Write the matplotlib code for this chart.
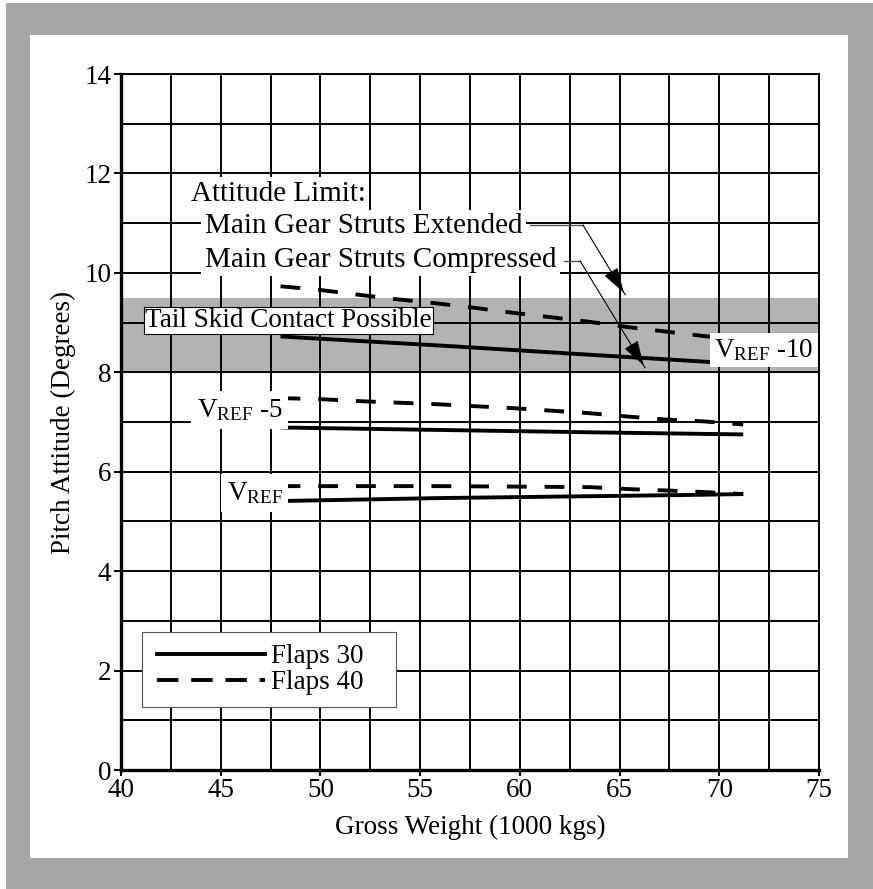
import matplotlib
matplotlib.use("Agg")
import matplotlib.pyplot as plt
from matplotlib.patches import Rectangle
from matplotlib.lines import Line2D

plt.rcParams['font.family'] = ['Liberation Serif', 'DejaVu Serif']
plt.rcParams['mathtext.fontset'] = 'custom'
plt.rcParams['mathtext.rm'] = 'Liberation Serif'
plt.rcParams['mathtext.it'] = 'Liberation Serif:italic'
FS = 19.5
FS_ANN = 21
plt.rcParams['font.size'] = FS

# ---- data ----
f30_ref10_x = [48, 56.35, 62.4, 69.4, 71.2]
f30_ref10_y = [8.72, 8.53, 8.38, 8.21, 8.17]
f40_ref10_x = [48, 49.9, 51.9, 53.8, 55.75, 57.65, 59.6, 61.5, 63.4, 65.4, 67.3, 69.2, 71.2]
f40_ref10_y = [9.73, 9.66, 9.56, 9.47, 9.39, 9.30, 9.20, 9.11, 9.02, 8.91, 8.82, 8.73, 8.65]

f30_ref5_x = [48, 56, 64, 71.2]
f30_ref5_y = [6.89, 6.84, 6.79, 6.75]
f40_ref5_x = [48, 50, 51.9, 53.8, 55.75, 57.65, 59.6, 61.5, 63.4, 65.4, 67.3, 69.3, 71.2]
f40_ref5_y = [7.48, 7.46, 7.42, 7.39, 7.36, 7.32, 7.28, 7.23, 7.18, 7.11, 7.05, 7.01, 6.95]

f30_ref_x = [48, 52, 56, 60, 64, 68, 71.2]
f30_ref_y = [5.41, 5.44, 5.47, 5.49, 5.51, 5.53, 5.55]
f40_ref_x = [48, 52, 56, 60, 63.5, 65.5, 67.5, 69.3, 71.2]
f40_ref_y = [5.71, 5.71, 5.71, 5.70, 5.69, 5.65, 5.62, 5.59, 5.55]

skid_band = (8.0, 9.5)
xticks = [40, 45, 50, 55, 60, 65, 70, 75]
yticks = [0, 2, 4, 6, 8, 10, 12, 14]

W, H, DPI = 873, 889, 100
fig = plt.figure(figsize=(W / DPI, H / DPI), dpi=DPI)
fig.patch.set_facecolor('white')
# gray frame
fig.patches.append(Rectangle((6 / W, 0), (W - 6) / W, 886 / H, transform=fig.transFigure,
                             facecolor='#a6a6a6', edgecolor='none', zorder=-10))
fig.patches.append(Rectangle((30 / W, 31 / H), (848 - 30) / W, (854 - 31) / H,
                             transform=fig.transFigure, facecolor='white',
                             edgecolor='none', zorder=-9))

ax = fig.add_axes([121 / W, 1 - 770 / H, (819 - 121) / W, (770 - 74) / H])
ax.set_facecolor('none')
ax.set_xlim(40, 75)
ax.set_ylim(0, 14)

ax.axhspan(skid_band[0], skid_band[1], facecolor='#b3b3b3', edgecolor='none', zorder=0.1)

# grid
ax.set_axisbelow(True)
ax.set_xticks(xticks)
ax.set_yticks(yticks)
ax.set_xticks([x + 2.5 for x in xticks[:-1]], minor=True)
ax.set_yticks([y + 1 for y in yticks[:-1]], minor=True)
ax.grid(True, which='both', color='black', linewidth=1.4)
ax.tick_params(axis='both', which='minor', length=0)
ax.tick_params(axis='y', which='major', direction='out', length=5, width=1.5, pad=2, labelsize=FS)
ax.tick_params(axis='x', which='major', direction='out', length=4, width=1.5, pad=2, labelsize=FS)
for s in ['left', 'bottom']:
    ax.spines[s].set_linewidth(2.4)
for s in ['top', 'right']:
    ax.spines[s].set_linewidth(1.4)

lw = 2.8
dash = (5.1, 4.6)
ax.plot(f30_ref10_x, f30_ref10_y, color='black', lw=lw, zorder=2, solid_capstyle='butt')
ax.plot(f40_ref10_x, f40_ref10_y, color='black', lw=lw, zorder=2, dashes=dash, dash_capstyle='butt')
ax.plot(f30_ref5_x, f30_ref5_y, color='black', lw=lw, zorder=2, solid_capstyle='butt')
ax.plot(f40_ref5_x, f40_ref5_y, color='black', lw=lw, zorder=2, dashes=dash, dash_capstyle='butt')
ax.plot(f30_ref_x, f30_ref_y, color='black', lw=lw, zorder=2, solid_capstyle='butt')
ax.plot(f40_ref_x, f40_ref_y, color='black', lw=lw, zorder=2, dashes=dash, dash_capstyle='butt')

ax.set_xlabel('Gross Weight (1000 kgs)', fontsize=FS, labelpad=8)
ax.set_ylabel('Pitch Attitude (Degrees)', fontsize=FS, labelpad=6)

# labels
white = dict(facecolor='white', edgecolor='none', pad=2.5)
ax.text(41.2, 8.91, 'Tail Skid Contact Possible', fontsize=FS, va='baseline', ha='left',
        bbox=dict(facecolor='white', edgecolor='black', linewidth=0.8, pad=1.0), zorder=4)
ax.text(69.75, 8.31, r'V$_{\mathrm{REF}}$ -10', fontsize=FS, va='baseline', ha='left',
        bbox=dict(facecolor='white', edgecolor='none', pad=3), zorder=4)
ax.text(43.8, 7.10, r'V$_{\mathrm{REF}}$ -5', fontsize=FS, va='baseline', ha='left',
        bbox=dict(facecolor='white', edgecolor='none', pad=4), zorder=4)
ax.text(45.3, 5.43, r'V$_{\mathrm{REF}}$', fontsize=FS, va='baseline', ha='left',
        bbox=dict(facecolor='white', edgecolor='none', pad=4), zorder=4)

ax.text(43.5, 11.45, 'Attitude Limit:', fontsize=FS_ANN, va='baseline', ha='left',
        bbox=white, zorder=4)
ax.text(44.2, 10.80, 'Main Gear Struts Extended', fontsize=FS_ANN, va='baseline', ha='left',
        bbox=white, zorder=4)
ax.text(44.2, 10.12, 'Main Gear Struts Compressed', fontsize=FS_ANN, va='baseline', ha='left',
        bbox=white, zorder=4)

# leaders
ax.plot([60.5, 63.17], [10.96, 10.96], color='#555555', lw=1.0, zorder=5)
ax.plot([63.17, 65.28], [10.96, 9.56], color='black', lw=0.8, zorder=5)
ax.annotate('', xy=(65.28, 9.56), xytext=(64.6, 10.0),
            arrowprops=dict(arrowstyle='-|>,head_length=0.8,head_width=0.25', color='black', lw=0.8),
            zorder=5)
ax.plot([62.2, 63.02], [10.24, 10.24], color='#555555', lw=1.0, zorder=5)
ax.plot([63.02, 66.28], [10.24, 8.09], color='black', lw=0.8, zorder=5)
ax.annotate('', xy=(66.28, 8.09), xytext=(65.6, 8.54),
            arrowprops=dict(arrowstyle='-|>,head_length=0.8,head_width=0.25', color='black', lw=0.8),
            zorder=5)

# legend (frame drawn as a box in axes coords)
ax.add_patch(Rectangle(((142 - 121) / 698, (770 - 707) / 696), (396 - 142) / 698, 75 / 696,
                       transform=ax.transAxes, facecolor='white', edgecolor='#555555',
                       linewidth=0.8, zorder=6))
h1 = Line2D([], [], color='black', lw=2.8)
h2 = Line2D([], [], color='black', lw=2.8, dashes=(5.5, 3.3))
leg = ax.legend([h1, h2], ['Flaps 30', 'Flaps 40'], loc='upper left',
                bbox_to_anchor=((157 - 121) / 698, (770 - 644) / 696), borderaxespad=0,
                fontsize=FS, handlelength=4.0, handletextpad=0.2, labelspacing=0.05,
                borderpad=0, frameon=False)
leg.set_zorder(7)

fig.savefig('out.png', dpi=DPI)
